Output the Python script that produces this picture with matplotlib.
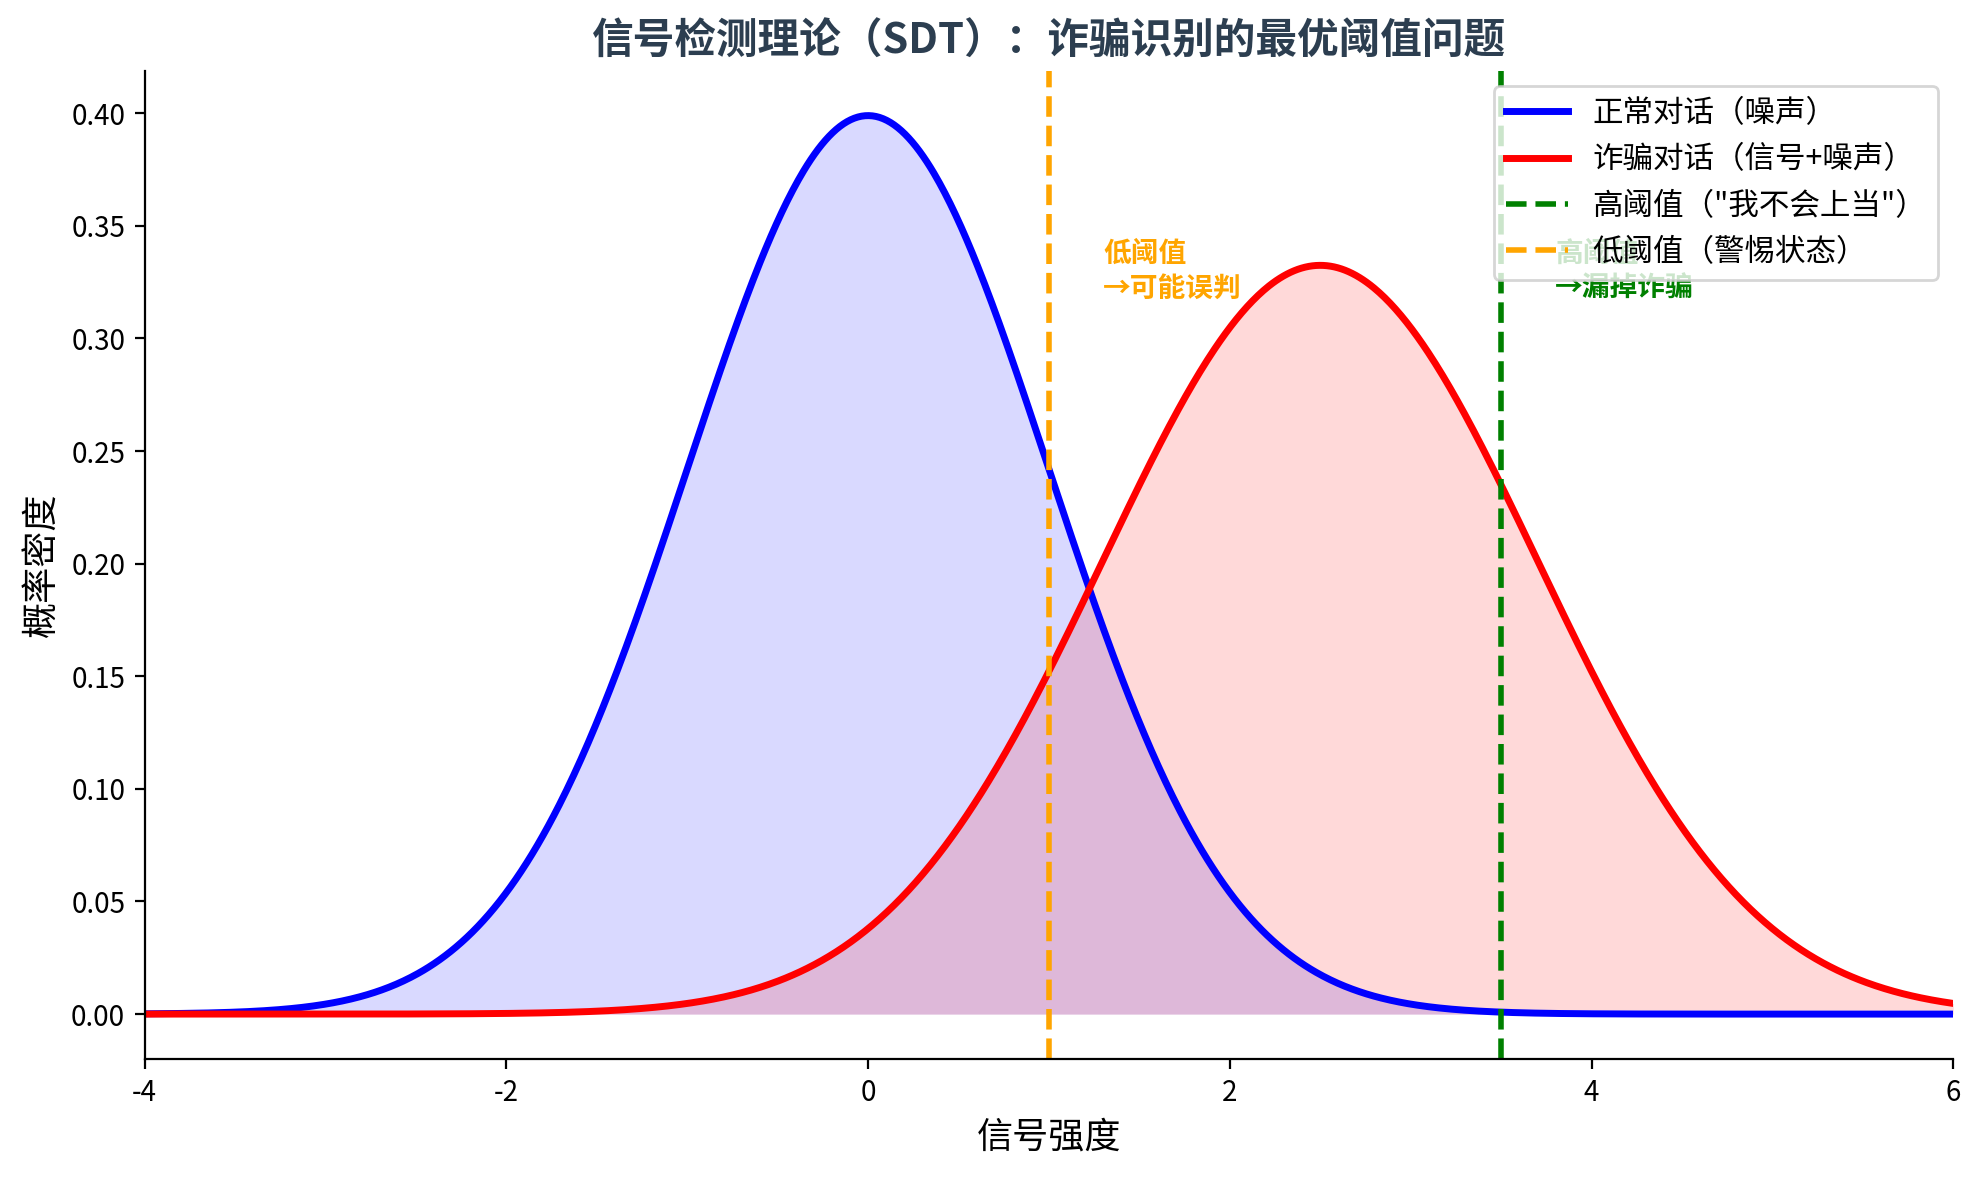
import numpy as np
import matplotlib
matplotlib.use("Agg")
import matplotlib.pyplot as plt

plt.rcParams["font.family"] = ["Noto Sans CJK SC", "DejaVu Sans"]
plt.rcParams["axes.unicode_minus"] = False

# distribution parameters
noise_mean, noise_std = 0.0, 1.0
signal_mean, signal_std = 2.5, 1.2
x_range = (-4, 6)

high_threshold = 3.5
low_threshold = 1.0

labels = {
    "noise": "正常对话（噪声）",
    "signal": "诈骗对话（信号+噪声）",
    "high": "高阈值（\"我不会上当\"）",
    "low": "低阈值（警惕状态）",
}


def normal_pdf(x, mu, sigma):
    return np.exp(-0.5 * ((x - mu) / sigma) ** 2) / (sigma * np.sqrt(2 * np.pi))


x = np.linspace(x_range[0], x_range[1], 1000)
noise = normal_pdf(x, noise_mean, noise_std)
signal = normal_pdf(x, signal_mean, signal_std)

fig, ax = plt.subplots(figsize=(9.905, 5.89), dpi=200)

ax.plot(x, noise, color="blue", lw=2.5, label=labels["noise"])
ax.fill_between(x, noise, color="blue", alpha=0.15, lw=0)
ax.plot(x, signal, color="red", lw=2.5, label=labels["signal"])
ax.fill_between(x, signal, color="red", alpha=0.15, lw=0)

ax.axvline(high_threshold, color="green", ls="--", lw=2, label=labels["high"])
ax.axvline(low_threshold, color="orange", ls="--", lw=2, label=labels["low"])

# the green note sits under the legend, as in the original
ax.text(high_threshold + 0.3, 0.344, "高阈值\n→漏掉诈骗", color="green",
        fontsize=10, fontweight="bold", va="top", linespacing=1.35)
ax.text(low_threshold + 0.3, 0.344, "低阈值\n→可能误判", color="orange",
        fontsize=10, fontweight="bold", va="top", linespacing=1.35)

ax.set_xlim(*x_range)
ax.set_xlabel("信号强度", fontsize=13)
ax.set_ylabel("概率密度", fontsize=13)
ax.set_title("信号检测理论（SDT）：诈骗识别的最优阈值问题", fontsize=15,
             fontweight="bold", color="#2c3e50", pad=6)
ax.spines["top"].set_visible(False)
ax.spines["right"].set_visible(False)
ax.legend(loc="upper right", fontsize=11, framealpha=0.8)

fig.subplots_adjust(left=0.073, right=0.986, top=0.94, bottom=0.101)
fig.savefig("out.png", dpi=200)
